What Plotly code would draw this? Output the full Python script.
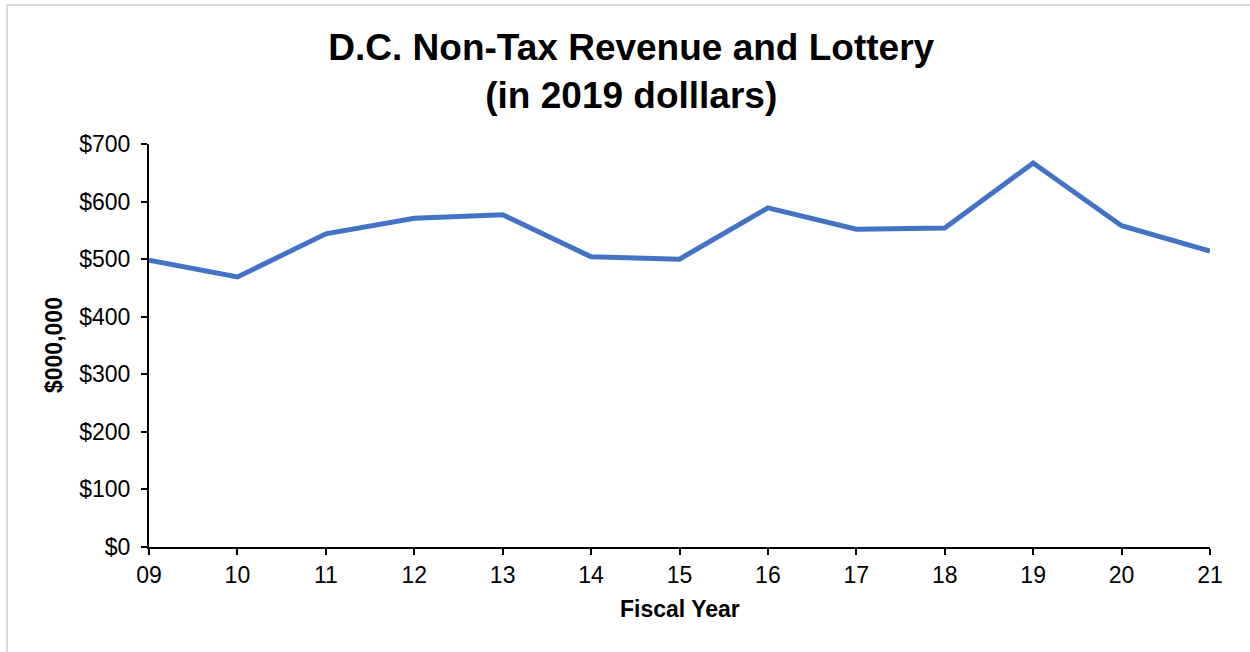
import plotly.graph_objects as go

# Fiscal years and inflation-adjusted non-tax revenue plus lottery ($ millions, 2019 dollars)
fiscal_years = ["09", "10", "11", "12", "13", "14", "15", "16", "17", "18", "19", "20", "21"]
revenue = [498, 469, 544, 571, 577, 504, 500, 589, 552, 554, 667, 558, 514]
y_tick_values = [0, 100, 200, 300, 400, 500, 600, 700]
y_tick_labels = ["$0", "$100", "$200", "$300", "$400", "$500", "$600", "$700"]

W, H = 1250, 652
L, R, T, B = 149, 40, 144, 105
plot_w = W - L - R
plot_h = H - T - B


def px_to_paper_x(px):
    return (px - L) / plot_w


def px_to_paper_y(py):
    return (H - B - py) / plot_h


FONT = "Liberation Sans, Arial, sans-serif"
TICK_SIZE = 23
LABEL_SIZE = 23

fig = go.Figure(
    go.Scatter(
        x=fiscal_years,
        y=revenue,
        mode="lines",
        line=dict(color="#4472C4", width=5),
        hoverinfo="x+y",
    )
)

fig.update_layout(
    width=W,
    height=H,
    margin=dict(l=L, r=R, t=T, b=B),
    paper_bgcolor="white",
    plot_bgcolor="white",
    showlegend=False,
    font=dict(family=FONT, color="black"),
    title=dict(
        text="<b>D.C. Non-Tax Revenue and Lottery<br>(in 2019 dolllars)</b>",
        font=dict(family=FONT, size=37, color="black"),
        x=0.505,
        xref="container",
        xanchor="center",
        y=1 - 60 / H,
        yref="container",
        yanchor="top",
    ),
    xaxis=dict(
        type="category",
        range=[0, len(fiscal_years) - 1],
        showline=True,
        linecolor="black",
        linewidth=2,
        ticks="outside",
        ticklen=6,
        tickwidth=2,
        tickcolor="black",
        showgrid=False,
        zeroline=False,
        tickfont=dict(family=FONT, size=TICK_SIZE, color="black"),
    ),
    yaxis=dict(
        range=[0, 700],
        tickvals=y_tick_values,
        ticktext=y_tick_labels,
        showline=True,
        linecolor="black",
        linewidth=2,
        ticks="outside",
        ticklen=6,
        tickwidth=2,
        tickcolor="black",
        ticklabelstandoff=6,
        showgrid=False,
        zeroline=False,
        tickfont=dict(family=FONT, size=TICK_SIZE, color="black"),
    ),
    annotations=[
        dict(
            text="<b>Fiscal Year</b>",
            xref="paper",
            yref="paper",
            x=px_to_paper_x(680),
            y=px_to_paper_y(609),
            xanchor="center",
            yanchor="middle",
            showarrow=False,
            font=dict(family=FONT, size=LABEL_SIZE, color="black"),
        ),
        dict(
            text="<b>$000,000</b>",
            xref="paper",
            yref="paper",
            x=px_to_paper_x(54),
            y=px_to_paper_y(345),
            xanchor="center",
            yanchor="middle",
            textangle=-90,
            showarrow=False,
            font=dict(family=FONT, size=LABEL_SIZE, color="black"),
        ),
    ],
    shapes=[
        dict(
            type="rect",
            xref="paper",
            yref="paper",
            x0=px_to_paper_x(7),
            y0=px_to_paper_y(5),
            x1=px_to_paper_x(W + 20),
            y1=px_to_paper_y(H + 20),
            line=dict(color="#d9d9d9", width=2),
            fillcolor="rgba(0,0,0,0)",
            layer="below",
        )
    ],
)

fig.write_html("out.html")
